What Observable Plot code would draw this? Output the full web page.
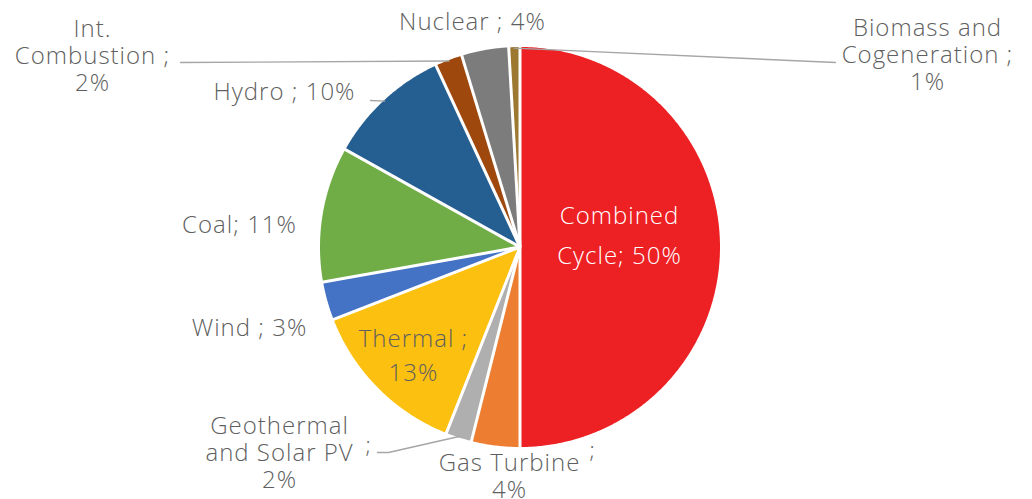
<!DOCTYPE html>
<html><head><meta charset="utf-8">
<script src="https://cdn.jsdelivr.net/npm/d3@7"></script>
<script src="https://cdn.jsdelivr.net/npm/@observablehq/plot@0.6"></script>
<style>html,body{margin:0;padding:0;background:#fff;overflow:hidden;}</style>
</head><body><div id="chart"></div>
<script>
// ---- data (clockwise from 12 o'clock) ----
const categories = ["Combined Cycle","Gas Turbine","Geothermal and Solar PV","Thermal","Wind","Coal","Hydro","Int. Combustion","Nuclear","Biomass and Cogeneration"];
const shares = [50.0, 3.9, 2.1, 13.1, 3.1, 10.9, 10.0, 2.2, 3.8, 0.9];
const percentLabels = ["50%","4%","2%","13%","3%","11%","10%","2%","4%","1%"];
const sliceColors = ["#ED2024","#ED7D31","#AFAFAF","#FCC010","#4472C4","#70AD47","#255E91","#9E480E","#7C7C7C","#9C7831"];
const labelTexts = ["Combined\nCycle; 50%","Gas Turbine\n4%","Geothermal\nand Solar PV\n2%","Thermal ;\n13%","Wind ; 3%","Coal; 11%","Hydro ; 10%","Int.\nCombustion ;\n2%","Nuclear ; 4%","Biomass and\nCogeneration ;\n1%"];

// ---- layout (pixels) ----
const W = 1032, H = 499, CX = 519.5, CY = 246.5, R = 200;
const labelPx = [[619,231],[509,475],[279,452],[413,353],[249,327],[239,224],[284,91],[92,55],[472,21],[927,54]];
const labelGroup = ["inside","out","out","thermal","out","out","out","out","out","out"];
const leaderPx = {"Biomass and Cogeneration": [[835,62]], "Int. Combustion": [[180,62]], "Hydro": [[370,100]], "Geothermal and Solar PV": [[388,452],[377,452]]};
const extraSemis = [[592,450],[368,445]];

const ux = px => (px - CX) / R, uy = py => (CY - py) / R;

// ---- slices ----
const total = d3.sum(shares);
let acc = 0;
const slices = categories.map((name, i) => {
  const a0 = acc / total * 2 * Math.PI; acc += shares[i];
  const a1 = acc / total * 2 * Math.PI;
  return {name, a0, a1, mid: (a0 + a1) / 2, i};
});
const slicePts = [];
for (const s of slices) {
  slicePts.push({name: s.name, x: 0, y: 0});
  const n = Math.max(2, Math.ceil((s.a1 - s.a0) / (Math.PI / 360)));
  for (let k = 0; k <= n; k++) {
    const a = s.a0 + (s.a1 - s.a0) * k / n;
    slicePts.push({name: s.name, x: Math.sin(a), y: Math.cos(a)});
  }
  slicePts.push({name: s.name, x: 0, y: 0});
}
const separators = slices.map(s => ({x1: 0, y1: 0, x2: Math.sin(s.a0) * 1.02, y2: Math.cos(s.a0) * 1.02}));

const leaders = [];
for (const s of slices) {
  const ends = leaderPx[s.name];
  if (!ends) continue;
  leaders.push({name: s.name, x: Math.sin(s.mid) * 0.995, y: Math.cos(s.mid) * 0.995});
  for (const [px, py] of ends) leaders.push({name: s.name, x: ux(px), y: uy(py)});
}

const labels = categories.map((name, i) => ({name, text: labelTexts[i], group: labelGroup[i], x: ux(labelPx[i][0]), y: uy(labelPx[i][1])}));
const semis = extraSemis.map(([px, py]) => ({text: ";", x: ux(px), y: uy(py)}));

const textColor = "#5F5F5F";
const chart = Plot.plot({
  width: W, height: H,
  margin: 0,
  x: {domain: [ux(0), ux(W)], axis: null},
  y: {domain: [uy(H), uy(0)], axis: null},
  color: {domain: categories, range: sliceColors},
  style: {fontFamily: "'Open Sans', sans-serif", fontWeight: 300, letterSpacing: "1px", background: "#fff"},
  marks: [
    Plot.line(slicePts, {x: "x", y: "y", z: "name", fill: "name", stroke: null, curve: "linear"}),
    Plot.link(separators, {x1: "x1", y1: "y1", x2: "x2", y2: "y2", stroke: "white", strokeWidth: 3}),
    Plot.line(leaders, {x: "x", y: "y", z: "name", stroke: "#A6A6A6", strokeWidth: 1.4}),
    Plot.text(labels.filter(d => d.group === "inside"), {x: "x", y: "y", text: "text", fill: "white", fontSize: 24, fontWeight: 300, lineHeight: 1.65}),
    Plot.text(labels.filter(d => d.group === "thermal"), {x: "x", y: "y", text: "text", fill: textColor, fontSize: 24, fontWeight: 300, lineHeight: 1.42}),
    Plot.text(labels.filter(d => d.group === "out"), {x: "x", y: "y", text: "text", fill: textColor, fontSize: 24, fontWeight: 300, lineHeight: 1.12}),
    Plot.text(semis, {x: "x", y: "y", text: "text", fill: textColor, fontSize: 22, fontWeight: 300})
  ]
});
document.getElementById("chart").appendChild(chart);
</script>
</body></html>
